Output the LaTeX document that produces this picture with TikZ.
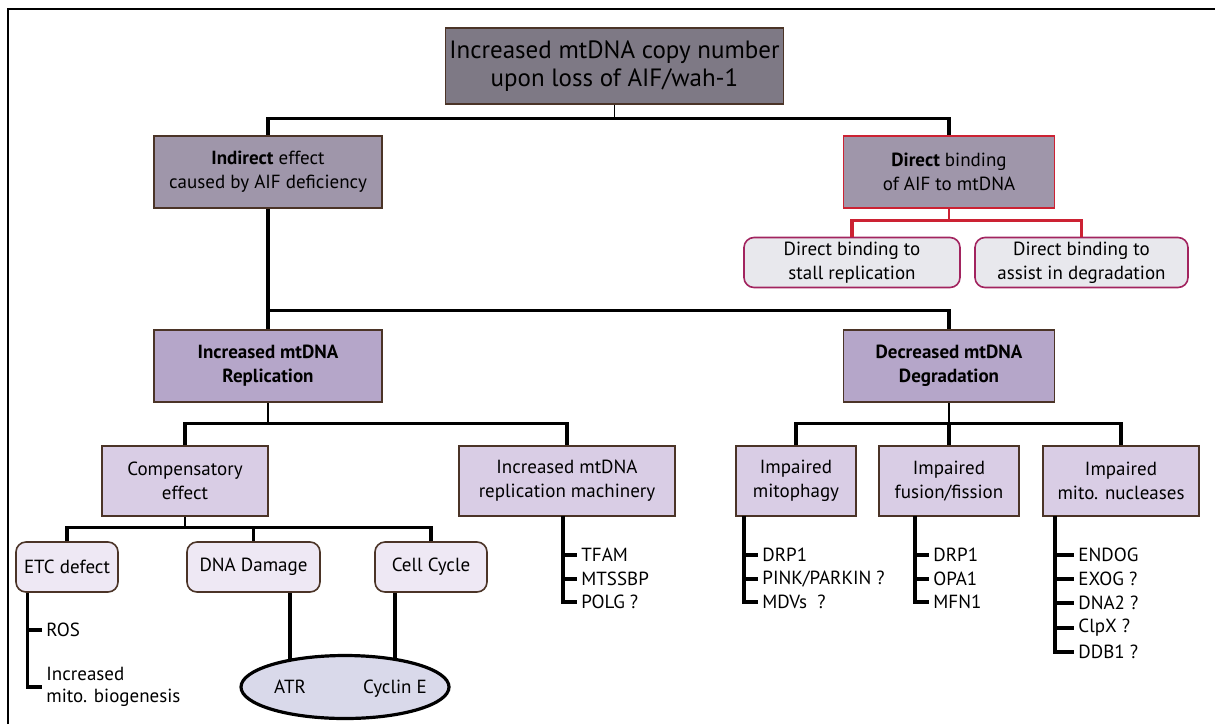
\documentclass[tikz,border=0pt]{standalone}
\usepackage{fontspec}
\setmainfont{PT Sans}
\usetikzlibrary{positioning,shapes.geometric,backgrounds}
\definecolor{topgray}{HTML}{7E7985}
\definecolor{causegray}{HTML}{9F96AA}
\definecolor{routelilac}{HTML}{B5A6C9}
\definecolor{effectlilac}{HTML}{D9CDE5}
\definecolor{pilllilac}{HTML}{EEE8F4}
\definecolor{bindgray}{HTML}{E8E8ED}
\definecolor{bindmagenta}{HTML}{A2245F}
\definecolor{linkred}{HTML}{CC2233}
\definecolor{ovalgray}{HTML}{D9D9EA}
\definecolor{edgebrown}{HTML}{4B3427}
\begin{document}
\begin{tikzpicture}[x=0.5pt, y=-0.5pt,
  box/.style={draw=edgebrown, line width=0.8pt, align=center, inner sep=2pt,
              font=\fontsize{9.5}{12}\selectfont},
  topbox/.style={box, fill=topgray, minimum width=166.5pt, minimum height=38pt,
                 font=\fontsize{12.5}{14}\selectfont},
  causebox/.style={box, fill=causegray, minimum height=36pt},
  routebox/.style={box, fill=routelilac, minimum height=36pt},
  effectbox/.style={box, fill=effectlilac, minimum height=35pt},
  pillbox/.style={box, rounded corners=5pt, fill=pilllilac, minimum height=25pt},
  bindbox/.style={pillbox, draw=bindmagenta, fill=bindgray},
  leaf/.style={anchor=west, inner sep=2pt, align=left, font=\fontsize{9.5}{11}\selectfont},
  ovaltext/.style={font=\fontsize{9.5}{11}\selectfont, text height=1.6ex, text depth=0.4ex},
  bus/.style={line width=1.6pt},
  stem/.style={line width=0.9pt},
]
\useasboundingbox (0,0) rectangle (1215,724);

% Frame (top and left edge only)
\draw[line width=1pt] (8,724) -- (8,9) -- (1215,9);

% Root
\node[topbox] (root) at (614.5,66) {Increased mtDNA copy number\\upon loss of AIF/wah-1};

% Indirect / direct
\node[causebox, minimum width=114pt] (indirect) at (268,172) {\textbf{Indirect} effect\\caused by AIF deficiency};
\node[causebox, minimum width=105.5pt, draw=linkred] (direct) at (949,172) {\textbf{Direct} binding\\of AIF to mtDNA};
\draw[stem] (root.south) -- ++(0,14) coordinate (rootbus);
\draw[bus] (indirect.north) |- (rootbus) -| (direct.north);

% Direct binding outcomes
\node[bindbox, minimum width=108pt] (stall) at (852,262.5) {Direct binding to\\stall replication};
\node[bindbox, minimum width=106.5pt] (assist) at (1081.5,262.5) {Direct binding to\\assist in degradation};
\draw[stem, draw=linkred] (direct.south) -- ++(0,12) coordinate (directbus);
\draw[bus, draw=linkred] (stall.north) |- (directbus) -| (assist.north);

% Replication / degradation
\node[routebox, minimum width=114pt] (replication) at (268,366) {\textbf{Increased mtDNA}\\\textbf{Replication}};
\node[routebox, minimum width=105.5pt] (degradation) at (949,366) {\textbf{Decreased mtDNA}\\\textbf{Degradation}};
\draw[bus] (indirect.south) -- (replication.north);
\draw[bus] (replication.north) ++(0,-19) -| (degradation.north);

% Replication branch
\node[effectbox, minimum width=83pt] (comp) at (185,481) {Compensatory\\effect};
\node[effectbox, minimum width=108pt] (machinery) at (567,481) {Increased mtDNA\\replication machinery};
\draw[stem] (replication.south) -- ++(0,21) coordinate (repbus);
\draw[bus] (comp.north) |- (repbus) -| (machinery.north);

% Degradation branch
\node[effectbox, minimum width=60pt] (mitophagy) at (796,481) {Impaired\\mitophagy};
\node[effectbox, minimum width=70pt] (fusion) at (949,481) {Impaired\\fusion/fission};
\node[effectbox, minimum width=78pt] (nucleases) at (1121,481) {Impaired\\mito. nucleases};
\draw[stem] (degradation.south) -- ++(0,21) coordinate (degbus);
\draw[bus] (mitophagy.north) |- (degbus) -| (nucleases.north);
\draw[bus] (degbus) -- (fusion.north);

% Compensatory effects
\node[pillbox, minimum width=51pt] (etc) at (67,567) {ETC defect};
\node[pillbox, minimum width=66.5pt] (dna) at (253.5,567) {DNA Damage};
\node[pillbox, minimum width=56pt] (cell) at (431,567) {Cell Cycle};
\draw[stem] (comp.south) -- ++(0,11) coordinate (compbus);
\draw[bus] (etc.north) |- (compbus) -| (cell.north);
\draw[bus] (compbus) -| (dna.north);

% ETC defect consequences
\node[leaf] (ros) at (42,630) {ROS};
\node[leaf] (biogen) at (42,687) {Increased\\mito. biogenesis};
\coordinate (etcstem) at ([xshift=6pt]etc.south west);
\draw[bus] (etcstem) |- (biogen.west);
\draw[bus] (etcstem |- ros.west) -- (ros.west);

% Kinase oval
\node[ellipse, draw, line width=1.6pt, fill=ovalgray, minimum width=104pt, minimum height=31.5pt] (kinase) at (345,687) {};
\node[ovaltext] (atr) at (290,687) {ATR};
\node[ovaltext] (cyce) at (395,687) {Cyclin E};
\begin{scope}[on background layer]
\draw[bus] (dna.south -| atr) -- (atr);
\draw[bus] (cell.south -| cyce) -- (cyce);
\end{scope}

% Replication machinery
\node[leaf] (tfam) at (577,555) {TFAM};
\node[leaf] (mtssbp) at (577,579) {MTSSBP};
\node[leaf] (polg) at (577,602) {POLG ?};
\coordinate (machstem) at (563,516);
\draw[bus] (machstem) |- (polg.west);
\foreach \n in {tfam,mtssbp} \draw[bus] (machstem |- \n.west) -- (\n.west);

% Mitophagy
\node[leaf] (drpa) at (758,555) {DRP1};
\node[leaf] (pink) at (758,579) {PINK/PARKIN ?};
\node[leaf] (mdv) at (758,602) {MDVs~~?};
\coordinate (mitostem) at (744,516);
\draw[bus] (mitostem) |- (mdv.west);
\foreach \n in {drpa,pink} \draw[bus] (mitostem |- \n.west) -- (\n.west);

% Fusion / fission
\node[leaf] (drpb) at (929,555) {DRP1};
\node[leaf] (opa) at (929,579) {OPA1};
\node[leaf] (mfn) at (929,602) {MFN1};
\coordinate (fusestem) at (915,516);
\draw[bus] (fusestem) |- (mfn.west);
\foreach \n in {drpb,opa} \draw[bus] (fusestem |- \n.west) -- (\n.west);

% Nucleases
\node[leaf] (endog) at (1074,555) {ENDOG};
\node[leaf] (exog) at (1074,579) {EXOG ?};
\node[leaf] (dnatwo) at (1074,603) {DNA2 ?};
\node[leaf] (clpx) at (1074,628) {ClpX ?};
\node[leaf] (ddb) at (1074,652) {DDB1 ?};
\coordinate (nucstem) at (1055,516);
\draw[bus] (nucstem) |- (ddb.west);
\foreach \n in {endog,exog,dnatwo,clpx} \draw[bus] (nucstem |- \n.west) -- (\n.west);

\end{tikzpicture}
\end{document}
